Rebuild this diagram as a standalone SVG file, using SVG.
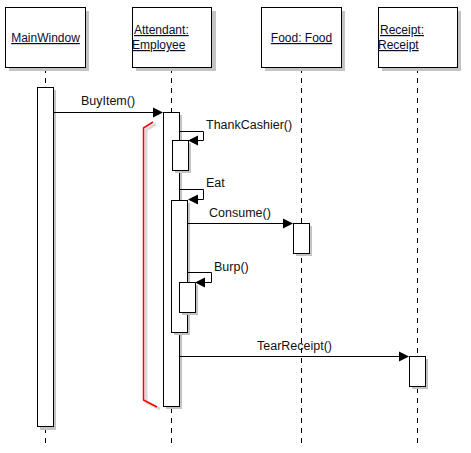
<svg xmlns="http://www.w3.org/2000/svg" width="471" height="453" viewBox="0 0 471 453">
<style>
.hdr{fill:#fff;stroke:#000;stroke-width:1}
.shd{fill:#c4c4c4;stroke:none}
.act{fill:#fff;stroke:#000;stroke-width:1}
.life{stroke:#000;stroke-width:1;stroke-dasharray:5 5;fill:none}
.msg{stroke:#000;stroke-width:1;fill:none}
.ah{fill:#000;stroke:none}
.ht{font-family:"Liberation Sans",Arial,sans-serif;font-size:12px;fill:#0c0c30;text-decoration:underline}
.mt{font-family:"Liberation Sans",Arial,sans-serif;font-size:12.5px;fill:#111}
</style>
<rect width="471" height="453" fill="#fff"/>
<g id="lifelines">
<line class="life" x1="45.5" y1="68" x2="45.5" y2="443"/>
<line class="life" x1="171.5" y1="68" x2="171.5" y2="443"/>
<line class="life" x1="301.5" y1="68" x2="301.5" y2="443"/>
<line class="life" x1="417.5" y1="68" x2="417.5" y2="443"/>
</g>
<g id="MainWindow">
<rect class="shd" x="9" y="11" width="80" height="60"/>
<rect class="hdr" x="5.5" y="7.5" width="80" height="60"/>
<text class="ht" x="45.5" y="42" text-anchor="middle">MainWindow</text>
<rect class="shd" x="40" y="90" width="16" height="340"/>
<rect class="act" x="37.5" y="87.5" width="16" height="339"/>
</g>
<g id="Attendant">
<rect class="shd" x="136" y="11" width="80" height="60"/>
<rect class="hdr" x="132.5" y="7.5" width="79" height="60"/>
<text class="ht" x="134" y="34">Attendant:</text>
<text class="ht" x="132" y="49">Employee</text>
<rect class="shd" x="166" y="115" width="16" height="294"/>
<rect class="act" x="163.5" y="112.5" width="16" height="294"/>
<rect class="shd" x="175" y="143" width="16" height="30"/>
<rect class="act" x="172.5" y="140.5" width="16" height="30"/>
<rect class="shd" x="174" y="203" width="16" height="132"/>
<rect class="act" x="171.5" y="200.5" width="16" height="132"/>
<rect class="shd" x="182" y="285" width="16" height="30"/>
<rect class="act" x="179.5" y="282.5" width="16" height="30"/>
</g>
<g id="Food">
<rect class="shd" x="265" y="11" width="80" height="60"/>
<rect class="hdr" x="261.5" y="7.5" width="80" height="60"/>
<text class="ht" x="301.5" y="42" text-anchor="middle">Food: Food</text>
<rect class="shd" x="296" y="226" width="16" height="30"/>
<rect class="act" x="293.5" y="223.5" width="16" height="30"/>
</g>
<g id="Receipt">
<rect class="shd" x="382" y="11" width="79" height="60"/>
<rect class="hdr" x="378.5" y="7.5" width="79" height="60"/>
<text class="ht" x="380" y="34">Receipt:</text>
<text class="ht" x="378" y="49">Receipt</text>
<rect class="shd" x="412" y="359" width="16" height="30"/>
<rect class="act" x="409.5" y="356.5" width="16" height="30"/>
</g>
<g id="frame">
<polyline points="156,124 146,130 146,402 160,409" fill="none" stroke="#d0d0d0" stroke-width="3" opacity="0.8"/>
<polyline points="153,122 143.5,128 143.5,400 157,407" fill="none" stroke="#f00" stroke-width="1.5"/>
</g>
<g id="connectors">
<line class="msg" x1="53" y1="112.5" x2="155" y2="112.5"/>
<polygon class="ah" points="163,112.5 153,107.5 153,117.5"/>
<text class="mt" x="108" y="105" text-anchor="middle">BuyItem()</text>

<polyline class="msg" points="179,131.5 203.5,131.5 203.5,140.5 196,140.5"/>
<polygon class="ah" points="188,140.5 198,135.5 198,145.5"/>
<text class="mt" x="206" y="129">ThankCashier()</text>

<polyline class="msg" points="179,189.5 203.5,189.5 203.5,199.5 196,199.5"/>
<polygon class="ah" points="188,199.5 198,194.5 198,204.5"/>
<text class="mt" x="206" y="187">Eat</text>

<line class="msg" x1="187" y1="223.5" x2="285" y2="223.5"/>
<polygon class="ah" points="293,223.5 283,218.5 283,228.5"/>
<text class="mt" x="209" y="217">Consume()</text>

<polyline class="msg" points="187,272.5 211.5,272.5 211.5,282.5 203,282.5"/>
<polygon class="ah" points="195,282.5 205,277.5 205,287.5"/>
<text class="mt" x="214" y="271">Burp()</text>

<line class="msg" x1="179" y1="356.5" x2="401" y2="356.5"/>
<polygon class="ah" points="409,356.5 399,351.5 399,361.5"/>
<text class="mt" x="257" y="350">TearReceipt()</text>
</g>
</svg>
